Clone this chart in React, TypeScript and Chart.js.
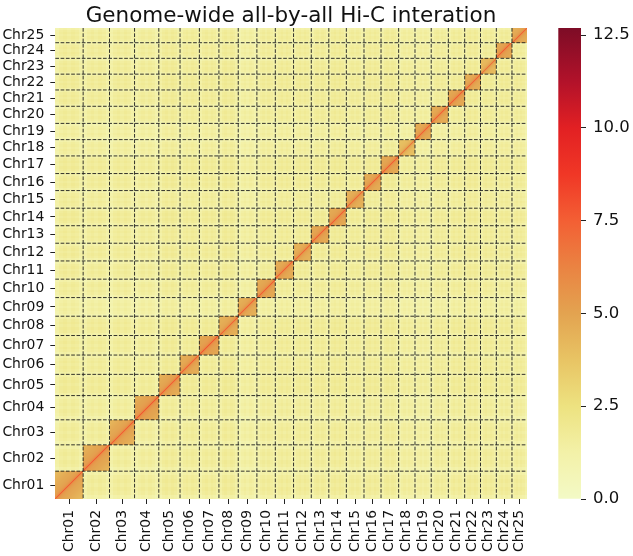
import React, { useEffect, useRef } from 'react';
import { Chart, registerables } from 'chart.js';

Chart.register(...registerables);

// ---------------- data ----------------
const chromosomes = [
  'Chr01', 'Chr02', 'Chr03', 'Chr04', 'Chr05', 'Chr06', 'Chr07', 'Chr08', 'Chr09', 'Chr10',
  'Chr11', 'Chr12', 'Chr13', 'Chr14', 'Chr15', 'Chr16', 'Chr17', 'Chr18', 'Chr19', 'Chr20',
  'Chr21', 'Chr22', 'Chr23', 'Chr24', 'Chr25',
];

// chromosome lengths (Mb)
const chromSizesMb = [
  55.6, 52.6, 50.0, 48.4, 42.4, 38.6, 39.0, 38.6, 37.2, 36.8,
  36.4, 35.4, 35.0, 35.0, 35.2, 34.0, 35.2, 32.6, 32.4, 34.2,
  32.6, 31.6, 31.6, 31.2, 29.4,
];

// mean intra-chromosomal contact level for each chromosome (diagonal blocks)
const intraLevel = [
  4.8, 4.9, 4.8, 5.0, 4.8, 4.7, 5.0, 4.6, 4.6, 4.8,
  4.7, 4.5, 4.8, 4.8, 4.5, 4.7, 4.8, 3.9, 4.7, 4.7,
  4.8, 4.6, 4.1, 4.8, 4.6,
];

// extra intra-chromosomal contact by distance from the diagonal (in 2 Mb bins)
const intraDecay = [
  2.8, 1.3, 0.8, 0.55, 0.4, 0.3, 0.22, 0.16, 0.12, 0.08,
  0.04, 0.0, 0.0, -0.05, -0.1, -0.15, -0.2, -0.25, -0.3, -0.35,
  -0.4, -0.45, -0.5, -0.55, -0.6, -0.65, -0.7, -0.75,
];

// inter-chromosomal contact level for each chromosome
const transLevel = [
  1.5, 1.4, 1.4, 1.3, 1.6, 1.5, 1.5, 1.6, 1.0, 1.4,
  1.5, 1.5, 1.5, 1.6, 1.4, 1.5, 1.6, 1.2, 1.1, 1.4,
  1.5, 1.6, 1.5, 1.5, 1.4,
];

// inter-chromosomal contact offset along each chromosome (telomere .. centre .. telomere)
const transSegmentOffset = [-0.3, 0.05, 0.2, 0.0, 0.2, 0.05, -0.3];

const colorbarTicks = [0, 2.5, 5, 7.5, 10, 12.5];
const colorMin = 0;
const colorMax = 12.69;
const binMb = 2;

// colour map (value -> rgb), yellow-orange-red
const cmapValues = [0, 1.25, 2.5, 3.75, 5.0, 6.25, 7.5, 8.75, 10.0, 11.25, 12.69];
const cmapColors = [
  [243, 250, 198], [243, 241, 168], [237, 226, 128], [232, 196, 100], [227, 163, 80],
  [234, 131, 66], [243, 95, 52], [240, 55, 38], [226, 32, 35], [178, 18, 42], [125, 12, 38],
];

// ---------------- derived tables ----------------
const chromStarts: number[] = [];
let totalMb = 0;
for (const s of chromSizesMb) {
  chromStarts.push(totalMb);
  totalMb += s;
}
const chromCenters = chromStarts.map((s, i) => s + chromSizesMb[i] / 2);
const chromBoundaries = chromStarts.slice(1);

function colorFor(v: number): string {
  const x = Math.max(cmapValues[0], Math.min(cmapValues[cmapValues.length - 1], v));
  let k = 0;
  while (k < cmapValues.length - 2 && x > cmapValues[k + 1]) k++;
  const f = (x - cmapValues[k]) / (cmapValues[k + 1] - cmapValues[k]);
  const a = cmapColors[k];
  const b = cmapColors[k + 1];
  const r = Math.round(a[0] + (b[0] - a[0]) * f);
  const g = Math.round(a[1] + (b[1] - a[1]) * f);
  const bl = Math.round(a[2] + (b[2] - a[2]) * f);
  return `rgb(${r},${g},${bl})`;
}

type Cell = { x0: number; x1: number; y0: number; y1: number; v: number };

function buildCells(): Cell[] {
  const cells: Cell[] = [];
  const n = chromSizesMb.length;
  for (let i = 0; i < n; i++) {
    for (let j = 0; j < n; j++) {
      const si = chromSizesMb[i];
      const sj = chromSizesMb[j];
      if (i === j) {
        const nb = Math.ceil(si / binMb);
        for (let a = 0; a < nb; a++) {
          for (let b = 0; b < nb; b++) {
            const x0 = chromStarts[i] + a * binMb;
            const y0 = chromStarts[j] + b * binMb;
            const d = Math.abs(a - b);
            cells.push({
              x0,
              x1: Math.min(chromStarts[i] + si, x0 + binMb),
              y0,
              y1: Math.min(chromStarts[j] + sj, y0 + binMb),
              v: intraLevel[i] + intraDecay[Math.min(d, intraDecay.length - 1)],
            });
          }
        }
      } else {
        const m = transSegmentOffset.length;
        for (let a = 0; a < m; a++) {
          for (let b = 0; b < m; b++) {
            cells.push({
              x0: chromStarts[i] + (si * a) / m,
              x1: chromStarts[i] + (si * (a + 1)) / m,
              y0: chromStarts[j] + (sj * b) / m,
              y1: chromStarts[j] + (sj * (b + 1)) / m,
              v: (transLevel[i] + transLevel[j]) / 2 + transSegmentOffset[a] + transSegmentOffset[b],
            });
          }
        }
      }
    }
  }
  return cells;
}

const cells = buildCells();

const FONT = "'DejaVu Sans', 'Liberation Sans', sans-serif";
const TEXT = '#111111';

const heatmapPlugin = {
  id: 'hicHeatmap',
  beforeDatasetsDraw(chart: any) {
    const { ctx, scales } = chart;
    const xs = scales.x;
    const ys = scales.y;
    ctx.save();
    for (const c of cells) {
      const px0 = Math.round(xs.getPixelForValue(c.x0));
      const px1 = Math.round(xs.getPixelForValue(c.x1));
      const pyBottom = Math.round(ys.getPixelForValue(c.y0));
      const pyTop = Math.round(ys.getPixelForValue(c.y1));
      if (px1 <= px0 || pyBottom <= pyTop) continue;
      ctx.fillStyle = colorFor(c.v);
      ctx.fillRect(px0, pyTop, px1 - px0, pyBottom - pyTop);
    }
    // dashed chromosome separators
    const top = ys.getPixelForValue(totalMb);
    const bottom = ys.getPixelForValue(0);
    const left = xs.getPixelForValue(0);
    const right = xs.getPixelForValue(totalMb);
    ctx.strokeStyle = 'rgba(30,30,30,0.9)';
    ctx.lineWidth = 1;
    ctx.setLineDash([3.7, 1.6]);
    for (const b of chromBoundaries) {
      const px = xs.getPixelForValue(b);
      ctx.beginPath();
      ctx.moveTo(px, top);
      ctx.lineTo(px, bottom);
      ctx.stroke();
      const py = ys.getPixelForValue(b);
      ctx.beginPath();
      ctx.moveTo(left, py);
      ctx.lineTo(right, py);
      ctx.stroke();
    }
    ctx.restore();
  },
  afterDraw(chart: any) {
    const { ctx, chartArea } = chart;
    ctx.save();
    ctx.fillStyle = TEXT;
    ctx.font = `21.5px ${FONT}`;
    ctx.textAlign = 'center';
    ctx.textBaseline = 'alphabetic';
    ctx.fillText('Genome-wide all-by-all Hi-C interation', (chartArea.left + chartArea.right) / 2, 22);
    ctx.restore();
  },
};

const tickFont = { family: FONT, size: 13.9 };
const cbFont = { family: FONT, size: 16.5 };

export default function App() {
  const mainRef = useRef<HTMLCanvasElement>(null);
  const cbRef = useRef<HTMLCanvasElement>(null);

  useEffect(() => {
    if (!mainRef.current || !cbRef.current) return;
    const main = new Chart(mainRef.current, {
      type: 'scatter',
      data: { datasets: [{ data: [], pointRadius: 0 }] },
      options: {
        animation: false,
        responsive: false,
        events: [],
        layout: { padding: { left: 0, right: 545 - 526.7, top: 28, bottom: 0 } },
        plugins: { legend: { display: false }, tooltip: { enabled: false }, title: { display: false } },
        scales: {
          x: {
            type: 'linear',
            min: 0,
            max: totalMb,
            afterBuildTicks: (s: any) => {
              s.ticks = chromCenters.map((v) => ({ value: v }));
            },
            afterFit: (s: any) => {
              s.height = 57;
            },
            ticks: {
              autoSkip: false,
              maxRotation: 90,
              minRotation: 90,
              padding: 6,
              color: TEXT,
              font: tickFont,
              callback: (_v: any, i: number) => chromosomes[i],
            },
            grid: { drawOnChartArea: false, drawTicks: true, tickLength: 5, color: '#222', lineWidth: 1 },
            border: { display: false },
          },
          y: {
            type: 'linear',
            min: 0,
            max: totalMb,
            afterBuildTicks: (s: any) => {
              s.ticks = chromCenters.map((v) => ({ value: v }));
            },
            afterFit: (s: any) => {
              s.width = 55.3;
            },
            ticks: {
              autoSkip: false,
              padding: 6,
              color: TEXT,
              font: tickFont,
              callback: (_v: any, i: number) => chromosomes[i],
            },
            grid: { drawOnChartArea: false, drawTicks: true, tickLength: 5, color: '#222', lineWidth: 1 },
            border: { display: false },
          },
        },
      } as any,
      plugins: [heatmapPlugin],
    });

    const cb = new Chart(cbRef.current, {
      type: 'bar',
      data: {
        labels: ['colour'],
        datasets: [
          {
            data: [[colorMin, colorMax]] as any,
            barPercentage: 1,
            categoryPercentage: 1,
            borderWidth: 0,
            backgroundColor: (c: any) => {
              const chart = c.chart;
              const { ctx, chartArea, scales } = chart;
              if (!chartArea || !scales.y) return colorFor(colorMin);
              const g = ctx.createLinearGradient(
                0,
                scales.y.getPixelForValue(colorMin),
                0,
                scales.y.getPixelForValue(colorMax),
              );
              cmapValues.forEach((v, k) => {
                const s = cmapColors[k];
                g.addColorStop((v - colorMin) / (colorMax - colorMin), `rgb(${s[0]},${s[1]},${s[2]})`);
              });
              return g;
            },
          },
        ],
      },
      options: {
        animation: false,
        responsive: false,
        events: [],
        layout: { padding: { left: 13.3, right: 0, top: 28, bottom: 57 } },
        plugins: { legend: { display: false }, tooltip: { enabled: false } },
        scales: {
          x: { display: false },
          y: {
            position: 'right',
            min: colorMin,
            max: colorMax,
            afterBuildTicks: (s: any) => {
              s.ticks = colorbarTicks.map((v) => ({ value: v }));
            },
            afterFit: (s: any) => {
              s.width = 88 - 36;
            },
            ticks: {
              padding: 7,
              color: TEXT,
              font: cbFont,
              callback: (v: any) => Number(v).toFixed(1),
            },
            grid: { drawOnChartArea: false, drawTicks: true, tickLength: 5, color: '#222', lineWidth: 1 },
            border: { display: false },
          },
        },
      } as any,
    });

    return () => {
      main.destroy();
      cb.destroy();
    };
  }, []);

  return (
    <div style={{ position: 'fixed', left: 0, top: 0, width: 633, height: 556, background: '#fff' }}>
      <canvas
        ref={mainRef}
        width={545}
        height={556}
        style={{ position: 'absolute', left: 0, top: 0, width: 545, height: 556 }}
      />
      <canvas
        ref={cbRef}
        width={88}
        height={556}
        style={{ position: 'absolute', left: 545, top: 0, width: 88, height: 556 }}
      />
    </div>
  );
}
